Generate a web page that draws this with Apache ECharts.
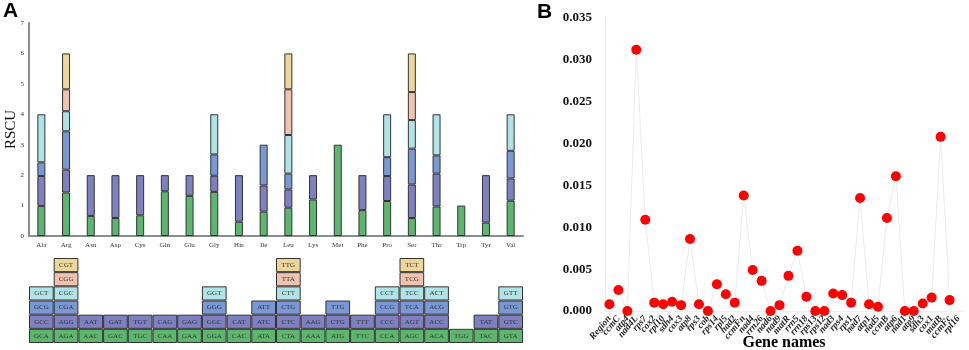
<!DOCTYPE html>
<html>
<head>
<meta charset="utf-8">
<script src="https://cdn.jsdelivr.net/npm/echarts@6/dist/echarts.min.js"></script>
<style>
  html, body { margin: 0; padding: 0; background: #fff; }
  #chart { width: 969px; height: 350px; }
</style>
</head>
<body>
<div id="chart"></div>
<script>
// amino acids (panel A categories)
const aminoAcids = ['Ala', 'Arg', 'Asn', 'Asp', 'Cys', 'Gln', 'Glu', 'Gly', 'His', 'Ile',
  'Leu', 'Lys', 'Met', 'Phe', 'Pro', 'Ser', 'Thr', 'Trp', 'Tyr', 'Val']

// codons of each amino acid, bottom -> top
const codons = [
  ['GCA', 'GCC', 'GCG', 'GCT'],
  ['AGA', 'AGG', 'CGA', 'CGC', 'CGG', 'CGT'],
  ['AAC', 'AAT'],
  ['GAC', 'GAT'],
  ['TGC', 'TGT'],
  ['CAA', 'CAG'],
  ['GAA', 'GAG'],
  ['GGA', 'GGC', 'GGG', 'GGT'],
  ['CAC', 'CAT'],
  ['ATA', 'ATC', 'ATT'],
  ['CTA', 'CTC', 'CTG', 'CTT', 'TTA', 'TTG'],
  ['AAA', 'AAG'],
  ['ATG', 'CTG', 'TTG'],
  ['TTC', 'TTT'],
  ['CCA', 'CCC', 'CCG', 'CCT'],
  ['AGC', 'AGT', 'TCA', 'TCC', 'TCG', 'TCT'],
  ['ACA', 'ACC', 'ACG', 'ACT'],
  ['TGG'],
  ['TAC', 'TAT'],
  ['GTA', 'GTC', 'GTG', 'GTT']
]

// RSCU per stack level (same order as codons)
const rscu1 = [0.99, 1.43, 0.66, 0.59, 0.68, 1.47, 1.32, 1.45, 0.47, 0.80, 0.93, 1.20, 3.00, 0.85, 1.15, 0.59, 0.97, 1.00, 0.44, 1.16]
const rscu2 = [0.98, 0.75, 1.34, 1.41, 1.32, 0.53, 0.68, 0.53, 1.53, 0.86, 0.60, 0.80, null, 1.15, 0.82, 1.10, 1.08, null, 1.56, 0.73]
const rscu3 = [0.45, 1.26, null, null, null, null, null, 0.70, null, 1.34, 0.52, null, null, null, 0.62, 1.18, 0.60, null, null, 0.91]
const rscu4 = [1.58, 0.66, null, null, null, null, null, 1.32, null, null, 1.27, null, null, null, 1.41, 0.94, 1.35, null, null, 1.20]
const rscu5 = [null, 0.72, null, null, null, null, null, null, null, null, 1.50, null, null, null, null, 0.92, null, null, null, null]
const rscu6 = [null, 1.18, null, null, null, null, null, null, null, null, 1.18, null, null, null, null, 1.27, null, null, null, null]
const rscuLevels = [rscu1, rscu2, rscu3, rscu4, rscu5, rscu6]

// panel B
const geneNames = ['Region', 'ccmC', 'atp4', 'nad4L', 'rps7', 'cox2', 'rpl10', 'sdh4', 'cox3', 'atp8',
  'rps3', 'cob', 'rps14', 'rpl5', 'nad2', 'ccmFn', 'nad4', 'rrn26', 'nad6', 'nad9',
  'matR', 'rrn5', 'rrn18', 'rps13', 'rps12', 'nad3', 'rps4', 'rps1', 'nad7', 'atp1',
  'nad5', 'ccmB', 'atp6', 'nad1', 'atp9', 'sdh3', 'cox1', 'matB', 'ccmFc', 'rpl16']
const geneValues = [0.0008, 0.0025, 0.0000, 0.0312, 0.0109, 0.0010, 0.0008, 0.0011, 0.0007, 0.0086,
  0.0008, 0.0000, 0.0032, 0.0020, 0.0010, 0.0138, 0.0049, 0.0036, 0.0000, 0.0007,
  0.0042, 0.0072, 0.0017, 0.0000, 0.0000, 0.0021, 0.0019, 0.0010, 0.0135, 0.0008,
  0.0005, 0.0111, 0.0161, 0.0000, 0.0000, 0.0009, 0.0016, 0.0208, 0.0013, null]

const yTicksA = [0, 1, 2, 3, 4, 5, 6, 7]
const yTicksB = [0, 0.005, 0.010, 0.015, 0.020, 0.025, 0.030, 0.035]

const levelColors = ['#5db66e', '#7e80c2', '#7a98d6', '#afe3e6', '#efc3ae', '#edd699']
const serif = 'Liberation Serif'

const chart = echarts.init(document.getElementById('chart'))

const barSeries = rscuLevels.map((vals, i) => ({
  type: 'bar',
  stack: 'rscu',
  xAxisIndex: 0,
  yAxisIndex: 0,
  barWidth: 8,
  data: vals,
  itemStyle: { color: levelColors[i], borderColor: '#333', borderWidth: 1 },
  emphasis: { disabled: true }
}))

const tableSeries = levelColors.map((c, i) => ({
  type: 'bar',
  stack: 'table',
  xAxisIndex: 1,
  yAxisIndex: 1,
  barWidth: '100%',
  data: codons.map(list => list[i] ? { value: 1, codon: list[i] } : null),
  itemStyle: { color: c, borderColor: '#333', borderWidth: 1 },
  label: {
    show: true,
    position: 'inside',
    formatter: p => p.data.codon,
    fontFamily: serif,
    fontSize: 7,
    color: '#333'
  },
  emphasis: { disabled: true }
}))

const option = {
  animation: false,
  grid: [
    { left: 29, right: 446, top: 23, bottom: 114, outerBoundsMode: 'none' },
    { left: 29, right: 446, top: 258, bottom: 7, outerBoundsMode: 'none' },
    { left: 605, right: 6, top: 18, bottom: 39, outerBoundsMode: 'none' }
  ],
  graphic: [
    { type: 'text', left: 3, top: 1, style: { text: 'A', font: 'bold 21px "Liberation Sans"', fill: '#000' } },
    { type: 'text', left: 537, top: 2, style: { text: 'B', font: 'bold 21px "Liberation Sans"', fill: '#000' } }
  ],
  xAxis: [
    {
      gridIndex: 0,
      type: 'category',
      data: aminoAcids,
      axisLine: { lineStyle: { color: '#8c8c8c', width: 2 } },
      axisTick: { show: false },
      axisLabel: { fontFamily: serif, fontSize: 7, color: '#333', margin: 6 }
    },
    {
      gridIndex: 1,
      type: 'category',
      data: aminoAcids,
      show: false
    },
    {
      gridIndex: 2,
      type: 'category',
      data: geneNames,
      axisLine: { lineStyle: { color: '#eeeeee' } },
      axisTick: { show: false },
      axisLabel: {
        interval: 0, rotate: 50, fontFamily: serif, fontSize: 9.5,
        fontStyle: 'italic', fontWeight: 'bold', color: '#222', margin: 6
      },
      name: 'Gene names',
      nameLocation: 'middle',
      nameGap: 24,
      nameMoveOverlap: false,
      nameTextStyle: { fontFamily: serif, fontSize: 16, fontWeight: 'bold', color: '#000' }
    }
  ],
  yAxis: [
    {
      gridIndex: 0,
      type: 'value',
      min: yTicksA[0],
      max: yTicksA[yTicksA.length - 1],
      interval: 1,
      axisLine: { show: true, lineStyle: { color: '#8c8c8c', width: 2 } },
      axisTick: { show: false },
      splitLine: { show: false },
      axisLabel: { fontFamily: serif, fontSize: 7, color: '#333', margin: 5 },
      name: 'RSCU',
      nameLocation: 'middle',
      nameGap: 10,
      nameMoveOverlap: false,
      nameTextStyle: { fontFamily: serif, fontSize: 15, color: '#111' }
    },
    {
      gridIndex: 1,
      type: 'value',
      min: 0,
      max: 6,
      show: false
    },
    {
      gridIndex: 2,
      type: 'value',
      min: yTicksB[0],
      max: yTicksB[yTicksB.length - 1],
      interval: 0.005,
      axisLine: { show: true, lineStyle: { color: '#eeeeee' } },
      axisTick: { show: false },
      splitLine: { show: false },
      axisLabel: {
        fontFamily: serif, fontSize: 13, fontWeight: 'bold', color: '#111', margin: 13,
        formatter: v => v.toFixed(3)
      }
    }
  ],
  series: barSeries.concat(tableSeries, [{
    type: 'line',
    xAxisIndex: 2,
    yAxisIndex: 2,
    data: geneValues,
    symbol: 'circle',
    symbolSize: 10,
    itemStyle: { color: '#ff0000' },
    lineStyle: { color: '#ebebeb', width: 1 },
    emphasis: { disabled: true }
  }])
}

chart.setOption(option)
</script>
</body>
</html>
